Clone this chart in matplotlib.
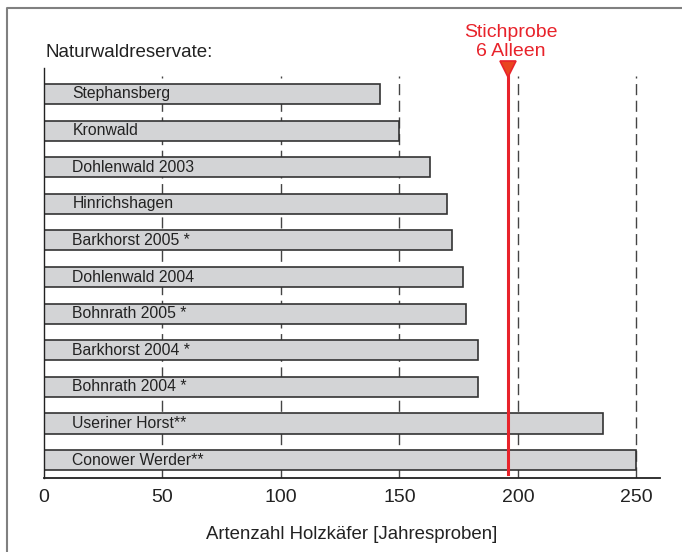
import matplotlib
matplotlib.use("Agg")
import matplotlib.pyplot as plt
from matplotlib.lines import Line2D

plt.rcParams["font.family"] = ["Liberation Sans", "DejaVu Sans"]

# data
names = ["Stephansberg", "Kronwald", "Dohlenwald 2003", "Hinrichshagen",
         "Barkhorst 2005 *", "Dohlenwald 2004", "Bohnrath 2005 *",
         "Barkhorst 2004 *", "Bohnrath 2004 *", "Useriner Horst**",
         "Conower Werder**"]
counts = [142, 150, 163, 170, 172, 177, 178, 183, 183, 236, 250]
sample = 196  # Stichprobe 6 Alleen
xticks = [0, 50, 100, 150, 200, 250]

C_RED = "#e8232b"
C_BAR = "#d3d4d6"

fig = plt.figure(figsize=(6.82, 5.52), dpi=100)
ax = fig.add_axes([44 / 682, 1 - 478 / 552, 616 / 682, 410 / 552])

ypos = list(range(len(names)))
ax.barh(ypos, counts, height=0.55, color=C_BAR, edgecolor="#333333",
        linewidth=1.2, zorder=2)
for y, n in zip(ypos, names):
    ax.text(12, y, n, va="center", ha="left", fontsize=11.3, color="#222222",
            zorder=4)

# dashed reference lines behind the bars
for xv in xticks[1:]:
    ax.plot([xv, xv], [10.49, -0.5], color="#444444", lw=1.0,
            dashes=(8, 4), zorder=1)

# sample line with marker
ax.plot([sample, sample], [10.39, -0.5], color=C_RED, lw=2.2, zorder=3)
ax.plot([sample], [-0.69], marker="v", ms=11, color="#e9451f",
        markeredgecolor=C_RED, markeredgewidth=1.2, clip_on=False, zorder=5)
ax.text(sample + 1, -0.93, "Stichprobe\n6 Alleen", ha="center", va="bottom",
        fontsize=14, color=C_RED, linespacing=1.12)
ax.text(0.5, -0.9, "Naturwaldreservate:", ha="left", va="bottom",
        fontsize=13.5, color="#222222")

ax.set_xlim(0, 260)
ax.set_ylim(10.49, -0.71)
ax.set_xticks(xticks)
ax.set_yticks([])
ax.tick_params(axis="x", length=0, pad=8, labelsize=14, colors="#222222")
ax.set_xlabel("Artenzahl Holzkäfer [Jahresproben]", fontsize=13.4,
              color="#222222", labelpad=14)
for s in ("top", "right"):
    ax.spines[s].set_visible(False)
ax.spines["left"].set_linewidth(1.0)
ax.spines["bottom"].set_linewidth(1.3)
ax.spines["left"].set_color("#222222")
ax.spines["bottom"].set_color("#222222")

# partial frame around the figure (top and left)
fig.add_artist(Line2D([7 / 682, 7 / 682, 1.0], [0.0, 1 - 8 / 552, 1 - 8 / 552],
                      transform=fig.transFigure, color="#808080", lw=1.5))

fig.savefig("out.png", dpi=100)
